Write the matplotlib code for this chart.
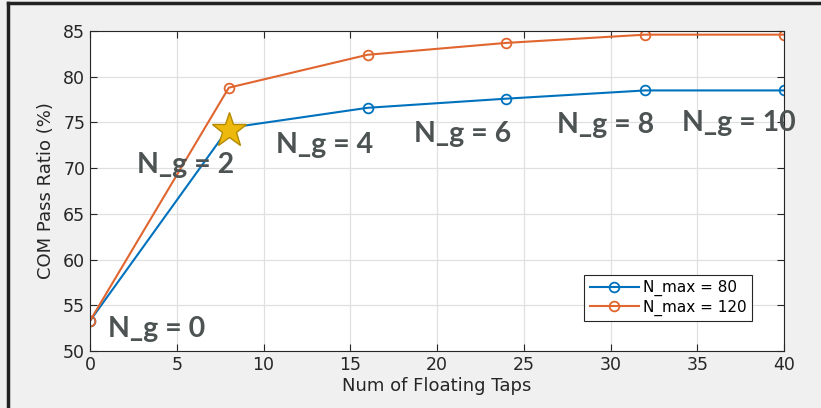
import matplotlib
matplotlib.use("Agg")
import matplotlib.pyplot as plt
from matplotlib.lines import Line2D

# data
taps = [0, 8, 16, 24, 32, 40]
ratio_80 = [53.3, 74.4, 76.6, 77.6, 78.5, 78.5]
ratio_120 = [53.3, 78.8, 82.4, 83.7, 84.6, 84.6]
star_x, star_y = 8, 74.2

ng_labels = ["N_g = 0", "N_g = 2", "N_g = 4", "N_g = 6", "N_g = 8", "N_g = 10"]
ng_x = [1.04, 2.71, 10.72, 18.7, 26.9, 34.1]
ng_y = [51.5, 69.5, 71.65, 72.9, 73.8, 74.05]

blue = "#0072BD"
orange = "#E0652F"
tick_col = "#262626"

fig = plt.figure(figsize=(8.21, 4.08), dpi=100, facecolor="#f0f0f0")
ax = fig.add_axes([90/821, 57/408, 694/821, 320/408])
ax.set_facecolor("white")

ax.plot(taps, ratio_80, "-o", color=blue, lw=1.5, ms=7, mfc="none", mew=1.3,
        label="N_max = 80")
ax.plot(taps, ratio_120, "-o", color=orange, lw=1.5, ms=7, mfc="none", mew=1.3,
        label="N_max = 120")
ax.plot([star_x], [star_y], marker="*", ms=26, color="#EDB90C",
        mec="#B38A00", mew=1.0, zorder=5)

for lab, x, y in zip(ng_labels, ng_x, ng_y):
    ax.text(x, y, lab, ha="left", va="baseline", fontsize=20.5,
            fontweight="bold", family="Lato", color="#4d5353", zorder=6)

ax.set_xlim(0, 40)
ax.set_ylim(50, 85)
ax.set_xticks(range(0, 41, 5))
ax.set_yticks(range(50, 86, 5))
ax.grid(True, color="#e0e0e0", lw=0.9)
ax.set_axisbelow(True)
ax.tick_params(direction="in", top=True, right=True, labelsize=12.5,
               colors=tick_col, length=5, width=0.8)
for s in ax.spines.values():
    s.set_color("#262626")
    s.set_linewidth(0.8)

ax.set_xlabel("Num of Floating Taps", fontsize=13, color=tick_col, labelpad=2)
ax.set_ylabel("COM Pass Ratio (%)", fontsize=13, color=tick_col, labelpad=6)

leg = ax.legend(loc="lower right", bbox_to_anchor=(0.954, 0.094),
                borderaxespad=0, fontsize=11, handlelength=3.2,
                fancybox=False, framealpha=1, edgecolor="#262626",
                borderpad=0.35, labelspacing=0.2, handletextpad=0.3)
leg.get_frame().set_linewidth(0.8)

# screenshot frame on left and top
fig.add_artist(Line2D([8/821, 8/821], [0, 1 - 3/408], color="#222222", lw=2.5))
fig.add_artist(Line2D([8/821, 1], [1 - 3/408, 1 - 3/408], color="#222222", lw=2.5))

fig.savefig("out.png", dpi=100, facecolor=fig.get_facecolor())
